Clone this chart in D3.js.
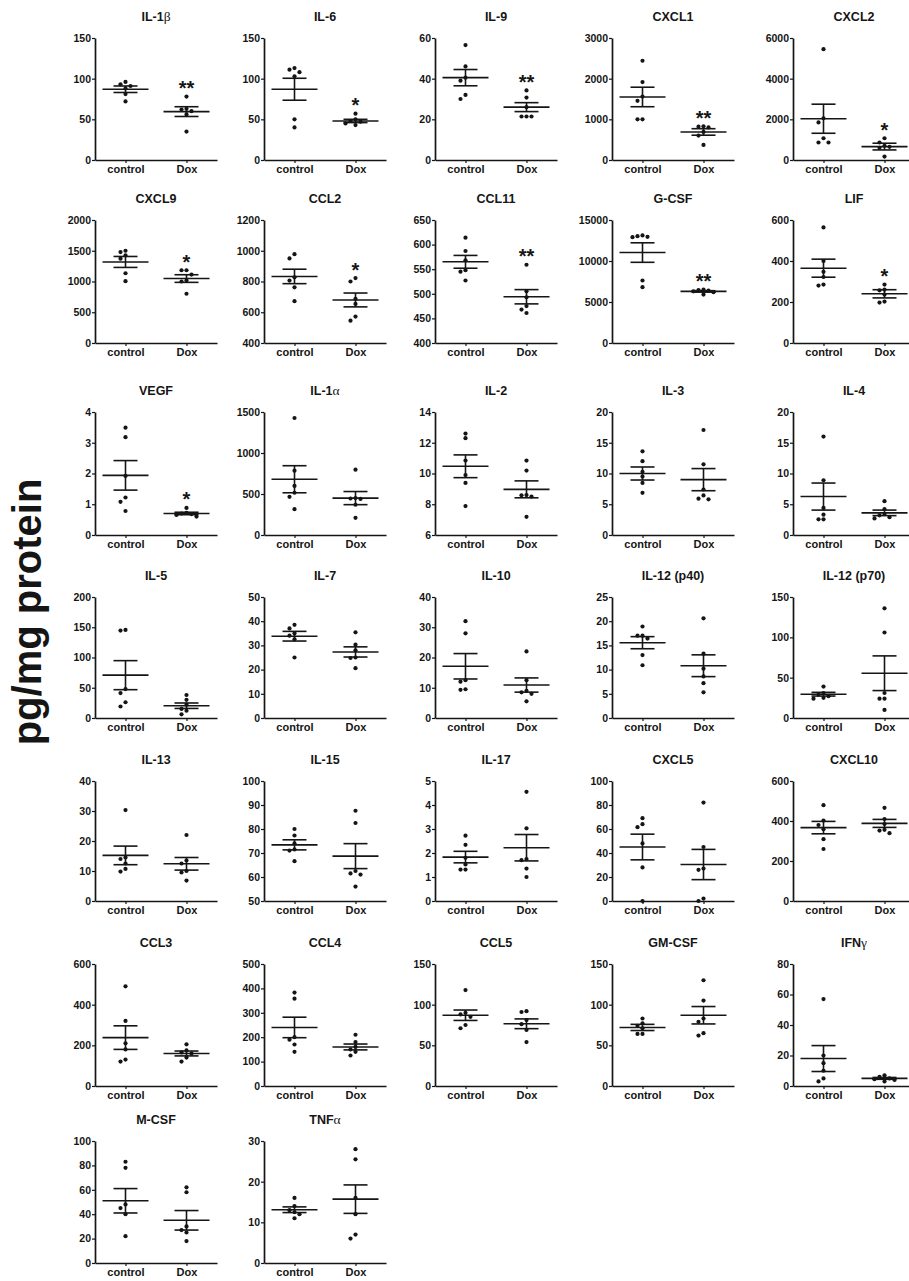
<!DOCTYPE html>
<html><head><meta charset="utf-8">
<script src="https://cdn.jsdelivr.net/npm/d3@7"></script>
<style>
body{margin:0;background:#fff}
svg{display:block}
text{font-family:"Liberation Sans",Arial,sans-serif;fill:#151515}
</style>
</head><body>
<svg id="c" width="909" height="1281"></svg>
<script>
const groups = ["control", "Dox"];
const panelNames = ["IL-1β","IL-6","IL-9","CXCL1","CXCL2","CXCL9","CCL2","CCL11","G-CSF","LIF",
  "VEGF","IL-1α","IL-2","IL-3","IL-4","IL-5","IL-7","IL-10","IL-12 (p40)","IL-12 (p70)",
  "IL-13","IL-15","IL-17","CXCL5","CXCL10","CCL3","CCL4","CCL5","GM-CSF","IFNγ","M-CSF","TNFα"];
const yMin  = [0,0,0,0,0, 0,400,400,0,0, 0,0,6,0,0, 0,0,0,0,0, 0,50,0,0,0, 0,0,0,0,0, 0,0];
const yMax  = [150,150,60,3000,6000, 2000,1200,650,15000,600, 4,1500,14,20,20, 200,50,40,25,150, 40,100,5,100,600, 600,500,150,150,80, 100,30];
const yStep = [50,50,20,1000,2000, 500,200,50,5000,200, 1,500,2,5,5, 50,10,10,5,50, 10,10,1,20,200, 200,100,50,50,20, 20,10];
const controlValues = [
  [96,93,91,88,81,72],[113,111,108,103,50,40],[56.5,46,40.5,39,32,30],[2440,1915,1560,1455,1000,1000],[5450,2050,1850,1070,860,860],
  [1500,1478,1425,1371,1134,1005],[978,950,827,806,762,672],[614,587,568,548,545,527],[13115,13033,12951,12910,7623,6803],[564,400,347,322,285,280],
  [3.49,3.18,1.92,1.22,1.08,0.78],[1427,784,598,515,465,315],[12.6,12.3,10.84,9.9,9.39,7.88],[13.6,12.0,10.27,9.5,8.46,6.86],[16.0,8.9,4.4,3.3,2.55,2.55],
  [145.6,144.5,47.8,41.2,26,19],[38.5,37,35,34,32.5,25],[32,28,12.5,12,9.5,9.3],[18.9,17,17,16.4,13,10.9],[39,31,29,27,25,24],
  [30.3,14.5,14,12.5,10.7,9.8],[80,77.3,74,71.5,71,66.6],[2.72,2.34,1.8,1.52,1.31,1.31],[69,64,61.5,48,28,0],[479,402,380,359,309,260],
  [490,320,210,180,130,120],[383,358,200,190,170,140],[118,90,88,85,75,71],[83,77,74,71,64,64],[57,20,15,10,5,3],
  [83,78,48,45,40,22],[16,14,13,12.5,12,11]
];
const doxValues = [
  [78,63,62,60,56,35],[57,50,48,47,45,43],[34.2,30.7,26,21.4,21.4,21.4],[830,820,800,690,600,370],[1070,860,700,650,600,170],
  [1183,1183,1113,1016,1000,801],[822,800,687,654,572,545],[559,505,493,475,468,461],[6500,6450,6400,6300,6200,5900],[285,260,257,236,202,197],
  [0.88,0.72,0.70,0.68,0.65,0.60],[797,450,445,440,369,210],[10.84,10.19,8.6,8.58,8.5,7.18],[17.07,11.5,7.4,6.44,5.9,5.8],[5.5,4.2,3.4,3.2,2.9,2.7],
  [38,30,22,15,12,6],[35.4,30.3,28,25,24.8,20.6],[22,12.5,9,8.5,8,5.5],[20.6,13.3,10.2,8.6,7.2,5.3],[136,106,31,24,24,10],
  [22,13.5,12.5,10,9.5,6.8],[87.6,82.5,62.5,61.5,61,56],[4.55,3.03,1.75,1.7,1.35,1.0],[82,45,27,26,2,0],[466,410,385,356,352,339],
  [205,175,165,160,140,120],[210,180,160,150,140,125],[92,91,81,76,69,54],[130,105,83,79,65,62],[7,6,5,4.5,4,3],
  [62,58,30,27,25,18],[28,25.5,16,12,7,6]
];
const controlMean = [87,87,40.5,1550,2030, 1318,833,565,11030,365, 1.94,680,10.47,10.0,6.25, 70.8,33.8,17.1,15.56,29.5, 15.2,73.4,1.83,45,367, 238,240,87,72,18, 51,13.1];
const controlSEM  = [4,13.5,4,240,715, 89,47,13,1190,44, 0.48,165,0.74,1.06,2.2, 24,2,4.2,1.25,2.3, 3.1,2.1,0.24,10.7,31, 58,42,6.4,3.8,8.5, 10,0.7];
const doxMean     = [59.5,48,26,690,660, 1048,680,494,6290,240, 0.70,450,8.97,9.0,3.6, 20.3,27.3,10.9,10.8,55.5, 12.4,68.7,2.22,30.4,388, 160,160,76.5,87,5, 35,15.7];
const doxSEM      = [6,2,2.2,80,165, 62,45,14.5,90,20, 0.04,80,0.55,1.8,0.45, 4.5,2.1,2.35,2.25,21.5, 2.1,5.2,0.55,12.6,20, 12,12,6,10.7,0.6, 8,3.5];
const significance = ["**","*","**","**","*", "*","*","**","**","*", "*","","","","", "","","","","", "","","","","", "","","","","", "",""];
const axisLabel = "pg/mg protein";

const svg = d3.select("#c");
const rowTop = [38, 220, 412, 597, 781, 964, 1141];
const rowBottom = [160, 343, 535, 718, 901, 1086, 1263];
const colX = [95, 264, 435, 612, 793];
const plotW = 122;
const ink = "#151515";

function swarm(vals, yScale, cx) {
  const placed = [];
  vals.slice().sort((a, b) => b - a).forEach(v => {
    const py = yScale(v);
    const offs = [0, -5, 5, -10, 10, -15, 15];
    for (const o of offs) {
      if (placed.every(p => Math.hypot(p.x - (cx + o), p.y - py) >= 4.6)) { placed.push({x: cx + o, y: py}); break; }
    }
  });
  return placed;
}

panelNames.forEach((name, i) => {
  const r = Math.floor(i / 5), c = i % 5;
  const x0 = colX[c], yT = rowTop[r], h = rowBottom[r] - rowTop[r];
  const g = svg.append("g").attr("transform", `translate(${x0},${yT})`);
  const y = d3.scaleLinear().domain([yMin[i], yMax[i]]).range([h, 0]);
  const x = d3.scalePoint().domain(groups).range([0, plotW]).padding(0.5);
  const ticks = d3.range(yMin[i], yMax[i] + yStep[i] / 2, yStep[i]);

  const ya = g.append("g").call(d3.axisLeft(y).tickValues(ticks).tickSize(3).tickSizeOuter(0).tickPadding(1).tickFormat(d3.format("d")));
  const xa = g.append("g").attr("transform", `translate(0,${h})`).call(d3.axisBottom(x).tickSize(3).tickSizeOuter(0).tickPadding(2));
  [ya, xa].forEach(a => {
    a.select(".domain").attr("stroke", ink).attr("stroke-width", 1.7);
    a.selectAll(".tick line").attr("stroke", ink).attr("stroke-width", 1.2);
    a.selectAll("text").attr("fill", ink).style("font-weight", "bold");
  });
  ya.selectAll("text").style("font-size", "10.5px");
  xa.selectAll("text").style("font-size", "11px");

  const t = svg.append("text").attr("x", x0 + plotW / 2).attr("y", yT - 17.5)
    .attr("text-anchor", "middle").style("font-size", "12.5px").style("font-weight", "bold");
  name.split(/([αβγ])/).filter(s => s.length).forEach(s => {
    const sp = t.append("tspan").text(s);
    if (/[αβγ]/.test(s)) sp.style("font-weight", "normal").style("font-family", "'Liberation Serif',serif").style("font-size", "13.5px");
  });

  const sets = [
    {k: groups[0], vals: controlValues[i], m: controlMean[i], s: controlSEM[i]},
    {k: groups[1], vals: doxValues[i], m: doxMean[i], s: doxSEM[i]}
  ];
  sets.forEach(st => {
    const cx = x(st.k);
    const pts = swarm(st.vals, y, cx);
    g.selectAll(null).data(pts).enter().append("circle")
      .attr("cx", d => d.x).attr("cy", d => d.y).attr("r", 2.1).attr("fill", ink);
    const lines = [
      [cx - 23, y(st.m), cx + 23, y(st.m)],
      [cx - 12, y(st.m + st.s), cx + 12, y(st.m + st.s)],
      [cx - 12, y(st.m - st.s), cx + 12, y(st.m - st.s)],
      [cx, y(st.m + st.s), cx, y(st.m - st.s)]
    ];
    g.selectAll(null).data(lines).enter().append("line")
      .attr("x1", d => d[0]).attr("y1", d => d[1]).attr("x2", d => d[2]).attr("y2", d => d[3])
      .attr("stroke", ink).attr("stroke-width", 1.6);
  });

  if (significance[i]) {
    const top = y(d3.max(doxValues[i]));
    g.append("text").attr("x", x(groups[1])).attr("y", top - 1.5)
      .attr("text-anchor", "middle").style("font-size", "20px").style("font-weight", "bold")
      .text(significance[i]);
  }
});

svg.append("text").attr("transform", "translate(41,612) rotate(-90)")
  .attr("text-anchor", "middle").style("font-size", "40px").style("font-weight", "bold")
  .text(axisLabel);
</script>
</body></html>
